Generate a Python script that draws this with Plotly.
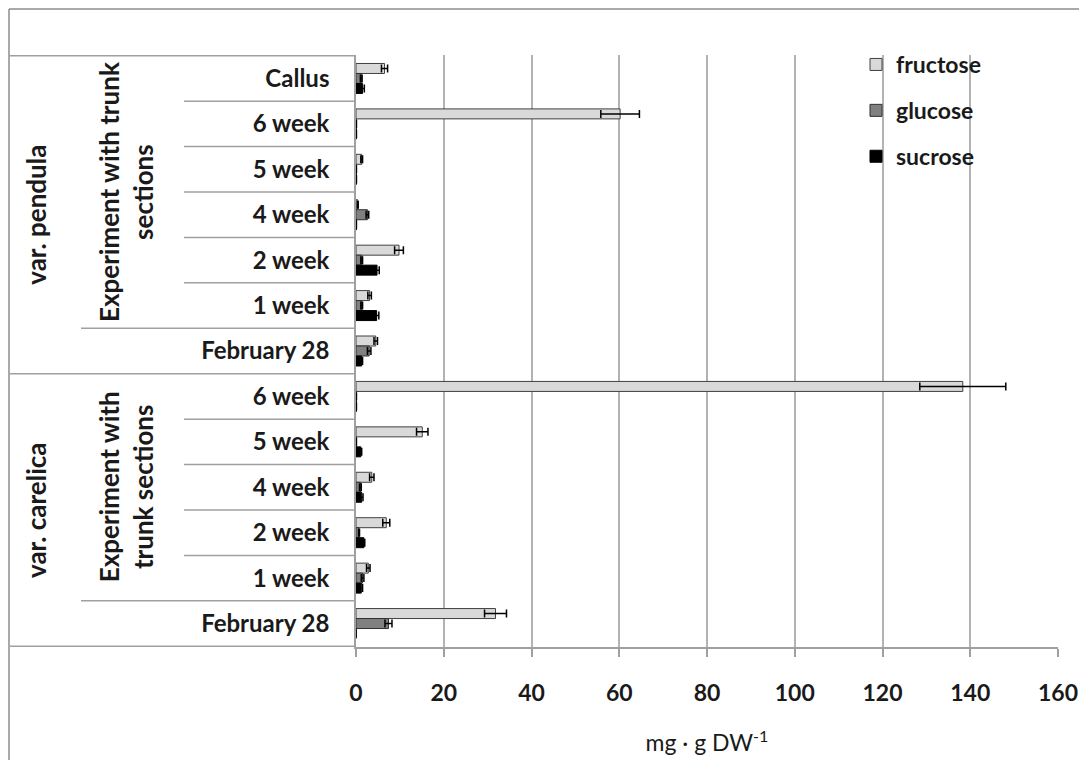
import plotly.graph_objects as go

# ---- data (top-to-bottom order) ----
group = ["pendula"] * 7 + ["carelica"] * 6
labels = ["Callus", "6 week", "5 week", "4 week", "2 week", "1 week", "February 28",
          "6 week", "5 week", "4 week", "2 week", "1 week", "February 28"]
fructose = [6.5, 60.2, 1.3, 0.4, 9.8, 3.1, 4.5, 138.3, 15.1, 3.6, 6.9, 2.8, 31.8]
fructose_err = [0.7, 4.4, 0.2, 0.1, 1.0, 0.4, 0.4, 9.8, 1.3, 0.5, 0.8, 0.4, 2.5]
glucose = [1.2, 0.1, 0.1, 2.6, 1.3, 1.3, 3.0, 0.1, 0.1, 1.0, 0.7, 1.5, 7.4]
glucose_err = [0.2, 0.0, 0.0, 0.3, 0.2, 0.2, 0.4, 0.0, 0.0, 0.2, 0.1, 0.3, 0.8]
sucrose = [1.5, 0.1, 0.1, 0.1, 4.8, 4.7, 1.3, 0.1, 1.1, 1.3, 1.8, 1.2, 0.0]
sucrose_err = [0.4, 0.0, 0.0, 0.0, 0.5, 0.5, 0.2, 0.0, 0.2, 0.3, 0.2, 0.3, 0.0]
series = [("fructose", fructose, fructose_err, "#d9d9d9", "#404040"),
          ("glucose", glucose, glucose_err, "#808080", "#303030"),
          ("sucrose", sucrose, sucrose_err, "#000000", "#000000")]

keys = [f"{g}|{i}|{l}" for i, (g, l) in enumerate(zip(group, labels))]

FONT = "Lato"
OFF = 8  # page body margin
W, H = 1087 - OFF, 760 - OFF
L, R, T, B = 356 - OFF, 29, 55 - OFF, 113
PW = W - L - R
PH = H - T - B

def px(xpix):
    """screen x pixel -> paper coordinate"""
    return (xpix - OFF - L) / PW

def py(ypix):
    """screen y pixel -> paper coordinate"""
    return (H - B - (ypix - OFF)) / PH

fig = go.Figure()
for name, vals, errs, fill, edge in series:
    fig.add_trace(go.Bar(
        y=keys, x=vals, orientation="h", name=name, legendgroup=name,
        marker=dict(color=fill, line=dict(color=edge, width=1)),
        error_x=dict(type="data", array=errs, visible=True, color="#000000",
                     thickness=1.5, width=4),
    ))

grid_c = "#b3b3b3"
line_c = "#a0a0a0"
TXT = "#1a1a1a"

shapes = []
n = len(keys)
for b in range(n + 1):
    yb = b - 0.5
    if b == 0 or b == n or group[b] != group[b - 1]:
        x0 = 10
    elif labels[b] == "February 28":
        x0 = 81
    else:
        x0 = 184
    shapes.append(dict(type="line", xref="paper", yref="y", x0=px(x0), x1=0,
                       y0=yb, y1=yb, line=dict(color=line_c, width=1.5)))
# outer frame
shapes.append(dict(type="line", xref="paper", yref="paper", x0=px(9), x1=px(1100),
                   y0=py(9), y1=py(9), line=dict(color="#8c8c8c", width=1.5)))
shapes.append(dict(type="line", xref="paper", yref="paper", x0=px(9), x1=px(9),
                   y0=py(9), y1=py(770), line=dict(color="#8c8c8c", width=1.5)))

def idx_span(g):
    ids = [i for i, gg in enumerate(group) if gg == g]
    return ids[0], ids[-1]

annotations = []
for g, exp_text in [("pendula", "Experiment with trunk<br>sections"),
                    ("carelica", "Experiment with<br>trunk sections")]:
    a, b = idx_span(g)
    annotations.append(dict(xref="paper", yref="y", x=px(36), y=(a + b) / 2,
                            xanchor="center", yanchor="middle",
                            text=f"var. {g}", textangle=-90, showarrow=False,
                            font=dict(family=FONT, size=26, color=TXT, weight="bold")))
    annotations.append(dict(xref="paper", yref="y", x=px(126), y=(a + b - 1) / 2,
                            xanchor="center", yanchor="middle",
                            text=exp_text, textangle=-90, showarrow=False, align="center",
                            font=dict(family=FONT, size=26, color=TXT, weight="bold")))

fig.update_layout(
    width=W, height=H,
    margin=dict(l=L, r=R, t=T, b=B, autoexpand=False),
    paper_bgcolor="white", plot_bgcolor="white",
    barmode="group", bargap=0.34, bargroupgap=0,
    showlegend=True,
    legend=dict(x=px(856), y=py(43), xanchor="left", yanchor="top",
                traceorder="grouped", tracegroupgap=13,
                font=dict(family=FONT, size=23, color=TXT, weight="bold"),
                bgcolor="rgba(0,0,0,0)"),
    shapes=shapes, annotations=annotations,
    xaxis=dict(range=[0, 160], dtick=20, showgrid=True, gridcolor=grid_c, gridwidth=1.5,
               zeroline=False, showline=True, linecolor=line_c, linewidth=1.5,
               ticks="outside", ticklen=8, tickcolor=line_c, tickwidth=1.5,
               ticklabelstandoff=17, automargin=False,
               tickfont=dict(family=FONT, size=23, color=TXT, weight="bold"),
               title=dict(text="mg · g DW<sup>-1</sup>", standoff=30,
                          font=dict(family=FONT, size=23, color=TXT))),
    yaxis=dict(type="category", categoryarray=keys, categoryorder="array",
               autorange="reversed", showline=True, linecolor=line_c, linewidth=1.5,
               showgrid=False, ticks="", tickvals=keys, ticktext=labels,
               ticklabelstandoff=20, automargin=False,
               tickfont=dict(family=FONT, size=24, color=TXT, weight="bold")),
)

fig.write_html("out.html")
